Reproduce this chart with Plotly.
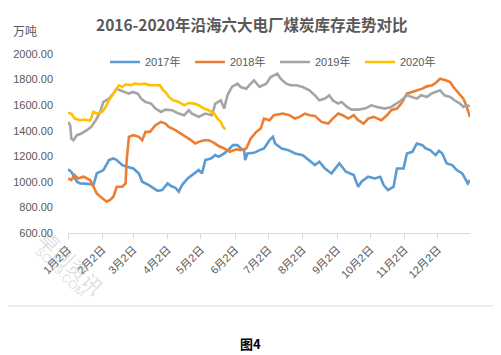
import plotly.graph_objects as go

YEAR_AXIS = "2019"

dates_2017 = ["01-02","01-05","01-10","01-13","01-22","01-25","01-28","02-03","02-08","02-12","02-15","02-20","02-24",
              "03-02","03-07","03-10","03-16","03-24","03-28","04-02","04-05","04-09","04-12","04-15","04-20","04-24",
              "04-30","05-03","05-06","05-11","05-15","05-18","05-23","05-28","05-31","06-04","06-07","06-10","06-11",
              "06-13","06-19","06-24","06-28","07-03","07-06","07-08","07-14","07-20","07-26","08-02","08-07","08-13",
              "08-17","08-22","08-28","09-04","09-10","09-17","09-21","09-24","09-30","10-06","10-11","10-14","10-18",
              "10-23","10-26","11-01","11-04","11-09","11-13","11-18","11-21","11-25","11-30","12-03","12-06","12-10",
              "12-15","12-19","12-24","12-29","12-31"]
vals_2017 = [1098,1079,1001,988,983,975,1066,1092,1170,1183,1170,1131,1118,
             1105,1066,1001,975,930,936,988,967,954,923,975,1027,1053,
             1092,1066,1170,1183,1209,1196,1222,1261,1287,1287,1261,1248,1170,
             1222,1227,1248,1261,1326,1352,1300,1261,1248,1222,1209,1170,1131,
             1157,1105,1066,1144,1079,1053,962,1001,1040,1027,1040,975,936,
             962,1105,1105,1222,1235,1300,1287,1261,1248,1209,1243,1222,1144,
             1131,1092,1066,988,1014]

dates_2018 = ["01-02","01-05","01-08","01-11","01-16","01-22","01-25","01-28","02-02","02-06","02-09","02-12","02-15",
              "02-20","02-23","02-24","02-26","03-02","03-07","03-10","03-13","03-17","03-22","03-27","03-31","04-03",
              "04-09","04-14","04-18","04-23","04-27","04-30","05-05","05-09","05-14","05-18","05-23","05-28","06-03",
              "06-07","06-12","06-16","06-21","06-25","06-28","07-03","07-07","07-15","07-21","07-26","07-30","08-04",
              "08-08","08-13","08-19","08-25","08-29","09-03","09-07","09-12","09-17","09-21","09-26","09-30","10-05",
              "10-09","10-12","10-17","10-21","10-26","10-30","11-04","11-09","11-13","11-18","11-22","11-27","12-01",
              "12-04","12-09","12-13","12-16","12-21","12-25","12-27","12-29","12-31"]
vals_2018 = [1027,1014,1053,1027,1040,1014,962,910,871,845,858,884,962,
             962,988,1170,1352,1365,1352,1326,1391,1391,1443,1469,1456,1430,
             1404,1378,1352,1326,1300,1313,1326,1326,1305,1280,1261,1235,1254,
             1248,1261,1340,1391,1417,1495,1482,1521,1534,1521,1495,1508,1534,
             1521,1516,1469,1456,1495,1534,1521,1495,1521,1482,1456,1495,1508,
             1495,1482,1521,1560,1573,1612,1690,1703,1716,1729,1747,1755,1781,
             1807,1794,1781,1742,1690,1651,1612,1560,1508]

dates_2019 = ["01-02","01-04","01-05","01-07","01-10","01-14","01-19","01-23","01-28","01-31","02-03","02-08","02-12",
              "02-15","02-18","02-23","02-26","03-01","03-06","03-09","03-13","03-18","03-22","03-27","03-31","04-06",
              "04-12","04-17","04-21","04-24","04-30","05-06","05-12","05-15","05-20","05-23","05-26","05-30","06-04",
              "06-07","06-12","06-16","06-19","06-24","06-30","07-04","07-07","07-10","07-13","07-18","07-22","07-27",
              "08-02","08-08","08-13","08-17","08-22","08-26","08-29","09-03","09-06","09-11","09-15","09-21","09-27",
              "10-03","10-08","10-15","10-21","10-26","10-30","11-04","11-08","11-13","11-17","11-22","11-26","12-01",
              "12-04","12-08","12-13","12-17","12-22","12-25","12-28","12-31"]
vals_2019 = [1469,1443,1339,1326,1365,1378,1404,1430,1495,1547,1625,1651,1690,
             1729,1716,1703,1690,1703,1690,1651,1625,1612,1573,1547,1565,1560,
             1534,1521,1560,1534,1508,1534,1521,1612,1638,1573,1677,1742,1768,
             1742,1729,1768,1794,1742,1768,1820,1833,1846,1807,1768,1755,1755,
             1742,1716,1677,1638,1651,1677,1638,1612,1625,1586,1565,1565,1573,
             1599,1586,1573,1586,1612,1638,1677,1664,1651,1677,1664,1690,1703,
             1716,1677,1664,1638,1612,1586,1599,1591]

dates_2020 = ["01-02","01-05","01-08","01-13","01-17","01-22","01-25","01-28","02-02","02-05","02-08","02-11","02-14",
              "02-17","02-20","02-23","02-28","03-03","03-08","03-12","03-17","03-22","03-26","03-29","03-31","04-03",
              "04-07","04-12","04-17","04-21","04-26","04-30","05-05","05-09","05-14","05-17","05-20","05-22","05-24"]
vals_2020 = [1540,1534,1495,1482,1488,1479,1547,1534,1547,1586,1638,1677,1716,
             1755,1742,1763,1755,1768,1763,1768,1755,1755,1755,1716,1703,1664,
             1638,1625,1599,1617,1612,1599,1573,1560,1534,1495,1469,1430,1410]

series_names = ["2017年", "2018年", "2019年", "2020年"]
series_colors = ["#5B9BD5", "#ED7D31", "#A5A5A5", "#FFC000"]
series_dates = [dates_2017, dates_2018, dates_2019, dates_2020]
series_vals = [vals_2017, vals_2018, vals_2019, vals_2020]

tick_months = list(range(1, 13))
tick_text = [f"{m}月2日" for m in tick_months]
tick_vals = [f"{YEAR_AXIS}-{m:02d}-02" for m in tick_months]

title_text = "2016-2020年沿海六大电厂煤炭库存走势对比"
unit_text = "万吨"
caption_text = "图4"

FONT = "Liberation Sans, Noto Sans CJK SC, sans-serif"
GRAY = "#595959"

fig = go.Figure()
for name, color, ds, vs in zip(series_names, series_colors, series_dates, series_vals):
    fig.add_trace(go.Scatter(
        x=[f"{YEAR_AXIS}-{d}" for d in ds], y=vs, name=name, mode="lines",
        line=dict(color=color, width=2.6), hoverinfo="x+y+name"))

# the page body adds an 8px margin; lay out in screen pixels and compensate
OFF = 8
W, H = 501 - OFF, 355 - OFF
PL, PR, PT, PB = 68, 470, 54, 233          # plot area in screen pixels
L, R, T, B = PL - OFF, W - (PR - OFF), PT - OFF, H - (PB - OFF)
pw, ph = W - L - R, H - T - B

def px(x):
    return (x - PL) / pw

def py(y):
    return (PB - y) / ph

fig.update_layout(
    width=W, height=H, autosize=False,
    margin=dict(l=L, r=R, t=T, b=B, pad=0),
    paper_bgcolor="white", plot_bgcolor="white",
    font=dict(family=FONT, size=11, color=GRAY),
    showlegend=True,
    legend=dict(orientation="h", x=px(105), y=py(62), xanchor="left", yanchor="middle",
                font=dict(size=11, color=GRAY), bgcolor="rgba(0,0,0,0)",
                itemwidth=30, entrywidth=40),
    xaxis=dict(type="date", range=[f"{YEAR_AXIS}-01-02", f"{YEAR_AXIS}-12-31"],
               tickmode="array", tickvals=tick_vals, ticktext=tick_text,
               tickangle=-45, ticks="outside", ticklen=5, tickcolor="#D9D9D9",
               showline=True, linecolor="#D9D9D9", linewidth=1, showgrid=False,
               zeroline=False, tickfont=dict(size=11, color=GRAY), automargin=False),
    yaxis=dict(range=[600, 2000], dtick=200, tick0=600, tickformat=".2f",
               showline=False, showgrid=False, zeroline=False, ticks="",
               ticklabelstandoff=14, tickfont=dict(size=11, color=GRAY), automargin=False),
    shapes=[dict(type="rect", xref="paper", yref="paper",
                 x0=px(5), x1=px(495.5), y0=py(306), y1=py(4.5),
                 line=dict(color="#D9D9D9", width=1), fillcolor="rgba(0,0,0,0)", layer="below")],
    annotations=[
        dict(text=f"<b>{title_text}</b>", xref="paper", yref="paper", x=px(251), y=py(24),
             xanchor="center", yanchor="middle", showarrow=False,
             font=dict(size=15.5, color=GRAY, family="Noto Sans CJK SC, sans-serif")),
        dict(text=unit_text, xref="paper", yref="paper", x=px(11), y=py(32),
             xanchor="left", yanchor="middle", showarrow=False,
             font=dict(size=12, color=GRAY)),
        dict(text=f"<b>{caption_text}</b>", xref="paper", yref="paper", x=px(250), y=py(343),
             xanchor="center", yanchor="middle", showarrow=False,
             font=dict(size=13, color="#000000", family="Noto Sans CJK SC, sans-serif")),
        dict(text="卓创资讯", xref="paper", yref="paper", x=px(72), y=py(262),
             xanchor="center", yanchor="middle", showarrow=False, textangle=45,
             font=dict(size=20, color="rgba(160,160,160,0.35)", family="Noto Sans CJK SC, sans-serif")),
        dict(text="SCI99.COM", xref="paper", yref="paper", x=px(60), y=py(272),
             xanchor="center", yanchor="middle", showarrow=False, textangle=45,
             font=dict(size=12, color="rgba(160,160,160,0.35)")),
    ],
)

fig.write_html("out.html")
